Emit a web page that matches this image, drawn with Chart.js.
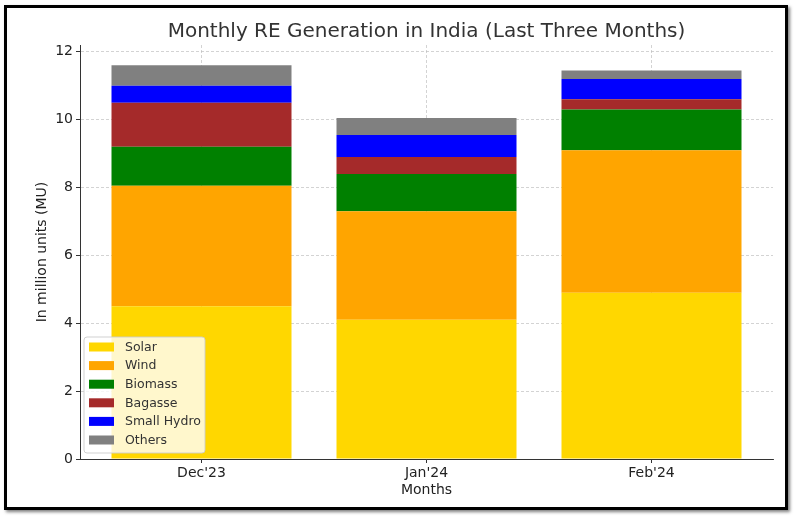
<!DOCTYPE html>
<html>
<head>
<meta charset="utf-8">
<script src="https://cdn.jsdelivr.net/npm/chart.js@4.4.1/dist/chart.umd.min.js"></script>
<style>
  html, body { margin: 0; padding: 0; background: #fff; }
  #wrap { position: relative; width: 796px; height: 523px; overflow: hidden; }
  #frame { position: absolute; left: 4px; top: 5px; width: 778px; height: 499px; border: 3px solid #000; box-shadow: 2px 2px 3px rgba(0,0,0,0.5); pointer-events: none; }
  canvas { position: absolute; left: 0; top: 0; }
</style>
</head>
<body>
<div id="wrap">
  <canvas id="chart" width="796" height="523"></canvas>
  <div id="frame"></div>
</div>
<script>
// monthly RE generation, stacked per source

const months = ["Dec'23", "Jan'24", "Feb'24"];
const sources = ['Solar', 'Wind', 'Biomass', 'Bagasse', 'Small Hydro', 'Others'];
const colors = ['#FFD700', '#FFA500', '#008000', '#A52A2A', '#0000FF', '#808080'];

const solar = [4.5, 4.1, 4.9];
const wind = [3.55, 3.2, 4.2];
const biomass = [1.15, 1.1, 1.2];
const bagasse = [1.3, 0.5, 0.3];
const smallHydro = [0.5, 0.65, 0.6];
const others = [0.6, 0.5, 0.25];

const yTicks = [0, 2, 4, 6, 8, 10, 12];

const seriesValues = [solar, wind, biomass, bagasse, smallHydro, others];
const font = 'DejaVu Sans';

const legendBox = {
  id: 'legendBox',
  afterDraw(chart) {
    const { ctx, chartArea } = chart;
    const w = 121, h = 116;
    const x = chartArea.left + 4, y = chartArea.bottom - 6 - h;
    ctx.save();
    ctx.beginPath();
    ctx.roundRect(x, y, w, h, 3);
    ctx.fillStyle = 'rgba(255,255,255,0.8)';
    ctx.fill();
    ctx.strokeStyle = 'rgba(204,204,204,0.9)';
    ctx.lineWidth = 1;
    ctx.stroke();
    ctx.font = '12.5px "' + font + '"';
    ctx.textBaseline = 'middle';
    chart.data.datasets.forEach((ds, i) => {
      const cy = y + 10 + i * 18.6;
      ctx.fillStyle = ds.backgroundColor;
      ctx.fillRect(x + 5, cy - 4.5, 25, 9);
      ctx.fillStyle = '#333';
      ctx.fillText(ds.label, x + 41, cy + 0.5);
    });
    ctx.restore();
  }
};

const gridStyle = {
  offset: false,
  color: 'rgba(185,185,185,0.8)',
  lineWidth: 0.8,
  tickColor: '#333',
  tickBorderDash: [],
  tickWidth: 1,
  tickLength: 4
};

const borderStyle = { display: true, color: '#333', width: 1, dash: [3, 2] };

new Chart(document.getElementById('chart').getContext('2d'), {
  type: 'bar',
  data: {
    datasets: sources.map((s, i) => ({
      label: s,
      data: seriesValues[i].map((v, j) => ({ x: j, y: v })),
      backgroundColor: colors[i],
      borderWidth: 0,
      barPercentage: 0.8,
      categoryPercentage: 1
    }))
  },
  options: {
    responsive: false,
    animation: false,
    layout: { padding: { left: 0, right: 23, top: 0, bottom: 0 } },
    plugins: {
      legend: { display: false },
      tooltip: { enabled: false },
      title: {
        display: true,
        text: 'Monthly RE Generation in India (Last Three Months)',
        fullSize: false,
        color: '#333',
        font: { family: font, size: 20, weight: 'normal', lineHeight: 1.2 },
        padding: { top: 19.5, bottom: 1.5 }
      }
    },
    scales: {
      x: {
        type: 'linear',
        stacked: true,
        offset: false,
        min: -0.54,
        max: 2.54,
        z: 1,
        afterBuildTicks: scale => { scale.ticks = months.map((m, i) => ({ value: i })); },
        afterFit: scale => { scale.height = 64; },
        ticks: {
          color: '#222',
          font: { family: font, size: 14 },
          padding: 2,
          maxRotation: 0,
          callback: v => months[v] ?? ''
        },
        grid: gridStyle,
        border: borderStyle,
        title: {
          display: true,
          text: 'Months',
          color: '#222',
          font: { family: font, size: 14, lineHeight: 1.2 },
          padding: { top: 0, bottom: 24.6 }
        }
      },
      y: {
        stacked: true,
        min: 0,
        max: 12.2,
        z: 1,
        afterBuildTicks: scale => { scale.ticks = yTicks.map(v => ({ value: v })); },
        afterFit: scale => { scale.width = 80; },
        ticks: {
          color: '#222',
          font: { family: font, size: 14 },
          padding: 3
        },
        grid: gridStyle,
        border: borderStyle,
        title: {
          display: true,
          text: 'In million units (MU)',
          color: '#222',
          font: { family: font, size: 14, lineHeight: 1.2 },
          padding: { top: 33.6, bottom: 0 }
        }
      }
    }
  },
  plugins: [legendBox]
});
</script>
</body>
</html>
